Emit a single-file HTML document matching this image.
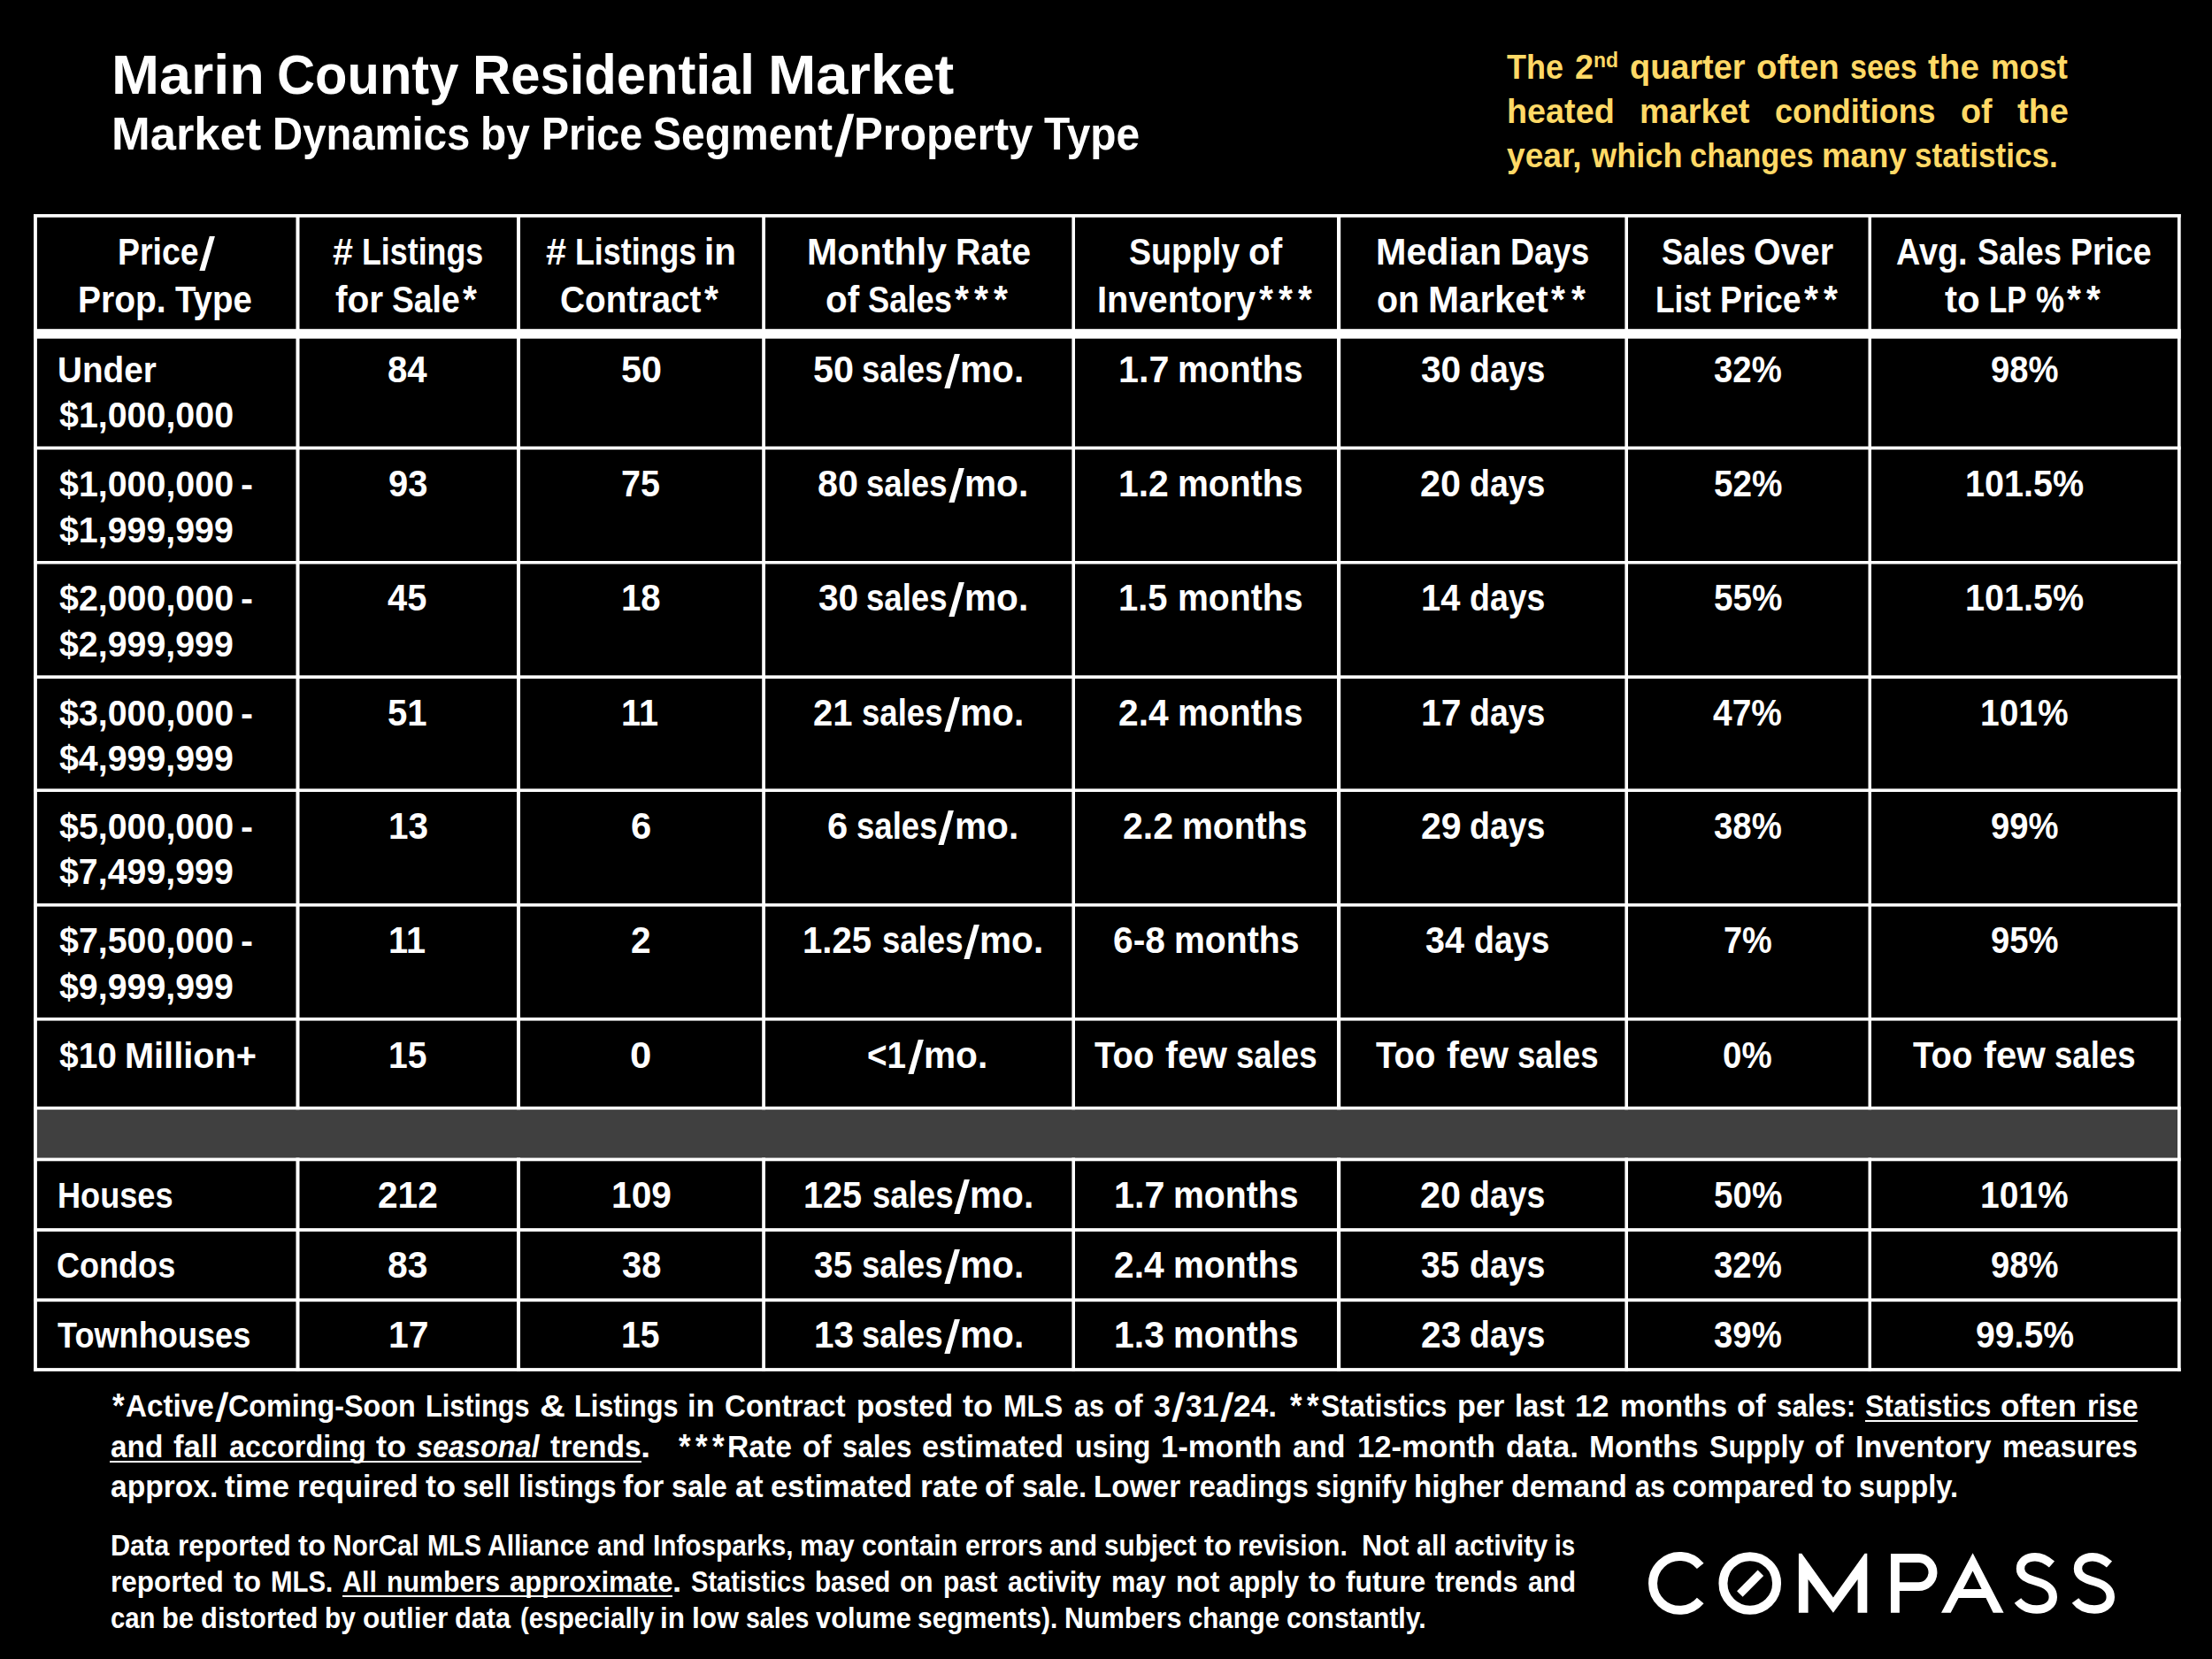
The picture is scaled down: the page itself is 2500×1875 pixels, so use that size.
<!DOCTYPE html>
<html><head><meta charset="utf-8"><style>
html,body{margin:0;padding:0;background:#000;}
body{width:2500px;height:1875px;position:relative;overflow:hidden;}
.t{position:absolute;white-space:pre;font-family:"Liberation Sans",sans-serif;font-weight:bold;line-height:1;transform-origin:0 0;}
.ln{position:absolute;}
</style></head><body>
<span class="t" style="left:125.66px;top:53px;font-size:62.50px;transform:scaleX(1.0376);color:#fff;">Marin</span>
<span class="t" style="left:312.76px;top:53px;font-size:62.50px;transform:scaleX(0.9538);color:#fff;">County</span>
<span class="t" style="left:533.63px;top:53px;font-size:62.50px;transform:scaleX(0.9562);color:#fff;">Residential</span>
<span class="t" style="left:868.30px;top:53px;font-size:62.50px;transform:scaleX(1.0430);color:#fff;">Market</span>
<span class="t" style="left:125.99px;top:126px;font-size:51.66px;transform:scaleX(1.0158);color:#fff;">Market</span>
<span class="t" style="left:307.88px;top:126px;font-size:51.66px;transform:scaleX(0.9150);color:#fff;">Dynamics</span>
<span class="t" style="left:543.46px;top:126px;font-size:51.66px;transform:scaleX(0.9272);color:#fff;">by</span>
<span class="t" style="left:611.93px;top:126px;font-size:51.66px;transform:scaleX(0.9027);color:#fff;">Price</span>
<span class="t" style="left:738.30px;top:126px;font-size:51.66px;transform:scaleX(0.9300);color:#fff;">Segment</span>
<span class="t" style="left:942.74px;top:126px;font-size:51.66px;transform:translateY(7.03px) scale(1.2489,1.2621) skewX(-6deg);transform-origin:0 43px;color:#fff;">/</span>
<span class="t" style="left:965.13px;top:126px;font-size:51.66px;transform:scaleX(0.9528);color:#fff;">Property</span>
<span class="t" style="left:1180.07px;top:126px;font-size:51.66px;transform:scaleX(0.9255);color:#fff;">Type</span>
<span class="t" style="left:1702.90px;top:57px;font-size:38.75px;transform:scaleX(0.9286);color:#FFD966;">The</span>
<span class="t" style="left:1779.88px;top:57px;font-size:38.75px;transform:scaleX(0.9793);color:#FFD966;">2</span>
<span class="t" style="left:1800.99px;top:56px;font-size:24.41px;transform:scaleX(0.9394);color:#FFD966;">nd</span>
<span class="t" style="left:1841.71px;top:57px;font-size:38.75px;transform:scaleX(0.9780);color:#FFD966;">quarter</span>
<span class="t" style="left:1984.97px;top:57px;font-size:38.75px;transform:scaleX(0.9906);color:#FFD966;">often</span>
<span class="t" style="left:2091.32px;top:57px;font-size:38.75px;transform:scaleX(0.8781);color:#FFD966;">sees</span>
<span class="t" style="left:2179.48px;top:57px;font-size:38.75px;transform:scaleX(0.9965);color:#FFD966;">the</span>
<span class="t" style="left:2250.45px;top:57px;font-size:38.75px;transform:scaleX(0.9396);color:#FFD966;">most</span>
<span class="t" style="left:1702.84px;top:107px;font-size:38.75px;transform:scaleX(0.9748);color:#FFD966;">heated</span>
<span class="t" style="left:1853.40px;top:107px;font-size:38.75px;transform:scaleX(0.9792);color:#FFD966;">market</span>
<span class="t" style="left:2006.40px;top:107px;font-size:38.75px;transform:scaleX(0.9268);color:#FFD966;">conditions</span>
<span class="t" style="left:2216.01px;top:107px;font-size:38.75px;transform:scaleX(0.9728);color:#FFD966;">of</span>
<span class="t" style="left:2280.39px;top:107px;font-size:38.75px;transform:scaleX(0.9965);color:#FFD966;">the</span>
<span class="t" style="left:1702.70px;top:157px;font-size:38.75px;transform:scaleX(0.9571);color:#FFD966;">year,</span>
<span class="t" style="left:1798.70px;top:157px;font-size:38.75px;transform:scaleX(0.9335);color:#FFD966;">which</span>
<span class="t" style="left:1910.22px;top:157px;font-size:38.75px;transform:scaleX(0.8879);color:#FFD966;">changes</span>
<span class="t" style="left:2058.98px;top:157px;font-size:38.75px;transform:scaleX(0.9448);color:#FFD966;">many</span>
<span class="t" style="left:2163.78px;top:157px;font-size:38.75px;transform:scaleX(0.9047);color:#FFD966;">statistics.</span>
<svg class="ln" style="left:0;top:0" width="2500" height="1875" viewBox="0 0 2500 1875"><rect x="38.07" y="1254.2" width="2426.6" height="54.3" fill="#404040"/><rect x="38.07" y="242" width="3.83" height="1307.9" fill="#fff"/><rect x="334.5" y="242" width="4.00" height="1012.2" fill="#fff"/><rect x="334.5" y="1308.5" width="4.00" height="241.4" fill="#fff"/><rect x="584.0" y="242" width="4.00" height="1012.2" fill="#fff"/><rect x="584.0" y="1308.5" width="4.00" height="241.4" fill="#fff"/><rect x="861.2" y="242" width="3.80" height="1012.2" fill="#fff"/><rect x="861.2" y="1308.5" width="3.80" height="241.4" fill="#fff"/><rect x="1211.4" y="242" width="3.60" height="1012.2" fill="#fff"/><rect x="1211.4" y="1308.5" width="3.60" height="241.4" fill="#fff"/><rect x="1511.0" y="242" width="4.20" height="1012.2" fill="#fff"/><rect x="1511.0" y="1308.5" width="4.20" height="241.4" fill="#fff"/><rect x="1836.4" y="242" width="3.60" height="1012.2" fill="#fff"/><rect x="1836.4" y="1308.5" width="3.60" height="241.4" fill="#fff"/><rect x="2111.5" y="242" width="3.50" height="1012.2" fill="#fff"/><rect x="2111.5" y="1308.5" width="3.50" height="241.4" fill="#fff"/><rect x="2461.0" y="242" width="3.70" height="1307.9" fill="#fff"/><rect x="38.07" y="242.0" width="2426.63" height="3.70" fill="#fff"/><rect x="38.07" y="371.8" width="2426.63" height="10.90" fill="#fff"/><rect x="38.07" y="504.5" width="2426.63" height="3.70" fill="#fff"/><rect x="38.07" y="634.0" width="2426.63" height="3.50" fill="#fff"/><rect x="38.07" y="763.3" width="2426.63" height="3.70" fill="#fff"/><rect x="38.07" y="891.4" width="2426.63" height="3.60" fill="#fff"/><rect x="38.07" y="1021.0" width="2426.63" height="3.60" fill="#fff"/><rect x="38.07" y="1150.0" width="2426.63" height="3.60" fill="#fff"/><rect x="38.07" y="1250.6" width="2426.63" height="3.60" fill="#fff"/><rect x="38.07" y="1308.5" width="2426.63" height="3.80" fill="#fff"/><rect x="38.07" y="1388.1" width="2426.63" height="3.80" fill="#fff"/><rect x="38.07" y="1467.4" width="2426.63" height="3.80" fill="#fff"/><rect x="38.07" y="1546.1" width="2426.63" height="3.80" fill="#fff"/></svg>
<span class="t" style="left:132.59px;top:264px;font-size:42.37px;transform:scaleX(0.8837);color:#fff;">Price</span>
<span class="t" style="left:225.30px;top:264px;font-size:42.37px;transform:translateY(5.64px) scale(1.2226,1.2355) skewX(-6deg);transform-origin:0 35px;color:#fff;">/</span>
<span class="t" style="left:88.35px;top:318px;font-size:42.37px;transform:scaleX(0.9195);color:#fff;">Prop.</span>
<span class="t" style="left:197.91px;top:318px;font-size:42.37px;transform:scaleX(0.9060);color:#fff;">Type</span>
<span class="t" style="left:376.07px;top:264px;font-size:42.37px;transform:scaleX(0.9760);color:#fff;">#</span>
<span class="t" style="left:408.66px;top:264px;font-size:42.37px;transform:scaleX(0.8451);color:#fff;">Listings</span>
<span class="t" style="left:379.37px;top:318px;font-size:42.37px;transform:scaleX(0.9590);color:#fff;">for</span>
<span class="t" style="left:443.41px;top:318px;font-size:42.37px;transform:scaleX(0.8797);color:#fff;">Sale</span>
<span class="t" style="left:523.27px;top:318px;font-size:42.37px;transform:translateY(0.63px) scale(0.9645,1.0666);transform-origin:0 35px;color:#fff;">*</span>
<span class="t" style="left:617.08px;top:264px;font-size:42.37px;transform:scaleX(0.9760);color:#fff;">#</span>
<span class="t" style="left:649.67px;top:264px;font-size:42.37px;transform:scaleX(0.8451);color:#fff;">Listings</span>
<span class="t" style="left:795.83px;top:264px;font-size:42.37px;transform:scaleX(0.9542);color:#fff;">in</span>
<span class="t" style="left:633.23px;top:318px;font-size:42.37px;transform:scaleX(0.9155);color:#fff;">Contract</span>
<span class="t" style="left:795.99px;top:318px;font-size:42.37px;transform:translateY(0.63px) scale(0.9645,1.0666);transform-origin:0 35px;color:#fff;">*</span>
<span class="t" style="left:911.52px;top:264px;font-size:42.37px;transform:scaleX(0.9736);color:#fff;">Monthly</span>
<span class="t" style="left:1079.65px;top:264px;font-size:42.37px;transform:scaleX(0.9265);color:#fff;">Rate</span>
<span class="t" style="left:933.22px;top:318px;font-size:42.37px;transform:scaleX(0.9523);color:#fff;">of</span>
<span class="t" style="left:981.40px;top:318px;font-size:42.37px;transform:scaleX(0.8568);color:#fff;">Sales</span>
<span class="t" style="left:1079.03px;top:318px;font-size:42.37px;transform:translateY(0.63px) scale(0.9645,1.0666);transform-origin:0 35px;color:#fff;">*</span>
<span class="t" style="left:1101.24px;top:318px;font-size:42.37px;transform:translateY(0.63px) scale(0.9645,1.0666);transform-origin:0 35px;color:#fff;">*</span>
<span class="t" style="left:1123.45px;top:318px;font-size:42.37px;transform:translateY(0.63px) scale(0.9645,1.0666);transform-origin:0 35px;color:#fff;">*</span>
<span class="t" style="left:1276.18px;top:264px;font-size:42.37px;transform:scaleX(0.8864);color:#fff;">Supply</span>
<span class="t" style="left:1411.25px;top:264px;font-size:42.37px;transform:scaleX(0.9523);color:#fff;">of</span>
<span class="t" style="left:1240.22px;top:318px;font-size:42.37px;transform:scaleX(0.9403);color:#fff;">Inventory</span>
<span class="t" style="left:1422.66px;top:318px;font-size:42.37px;transform:translateY(0.63px) scale(0.9645,1.0666);transform-origin:0 35px;color:#fff;">*</span>
<span class="t" style="left:1444.87px;top:318px;font-size:42.37px;transform:translateY(0.63px) scale(0.9645,1.0666);transform-origin:0 35px;color:#fff;">*</span>
<span class="t" style="left:1467.08px;top:318px;font-size:42.37px;transform:translateY(0.63px) scale(0.9645,1.0666);transform-origin:0 35px;color:#fff;">*</span>
<span class="t" style="left:1555.06px;top:264px;font-size:42.37px;transform:scaleX(0.9745);color:#fff;">Median</span>
<span class="t" style="left:1707.18px;top:264px;font-size:42.37px;transform:scaleX(0.8829);color:#fff;">Days</span>
<span class="t" style="left:1556.01px;top:318px;font-size:42.37px;transform:scaleX(0.9315);color:#fff;">on</span>
<span class="t" style="left:1614.41px;top:318px;font-size:42.37px;transform:scaleX(0.9944);color:#fff;">Market</span>
<span class="t" style="left:1753.48px;top:318px;font-size:42.37px;transform:translateY(0.63px) scale(0.9645,1.0666);transform-origin:0 35px;color:#fff;">*</span>
<span class="t" style="left:1775.70px;top:318px;font-size:42.37px;transform:translateY(0.63px) scale(0.9645,1.0666);transform-origin:0 35px;color:#fff;">*</span>
<span class="t" style="left:1878.31px;top:264px;font-size:42.37px;transform:scaleX(0.8568);color:#fff;">Sales</span>
<span class="t" style="left:1982.33px;top:264px;font-size:42.37px;transform:scaleX(0.9329);color:#fff;">Over</span>
<span class="t" style="left:1870.87px;top:318px;font-size:42.37px;transform:scaleX(0.8345);color:#fff;">List</span>
<span class="t" style="left:1944.03px;top:318px;font-size:42.37px;transform:scaleX(0.8837);color:#fff;">Price</span>
<span class="t" style="left:2038.81px;top:318px;font-size:42.37px;transform:translateY(0.63px) scale(0.9645,1.0666);transform-origin:0 35px;color:#fff;">*</span>
<span class="t" style="left:2061.02px;top:318px;font-size:42.37px;transform:translateY(0.63px) scale(0.9645,1.0666);transform-origin:0 35px;color:#fff;">*</span>
<span class="t" style="left:2143.49px;top:264px;font-size:42.37px;transform:scaleX(0.8932);color:#fff;">Avg.</span>
<span class="t" style="left:2235.40px;top:264px;font-size:42.37px;transform:scaleX(0.8568);color:#fff;">Sales</span>
<span class="t" style="left:2339.99px;top:264px;font-size:42.37px;transform:scaleX(0.8837);color:#fff;">Price</span>
<span class="t" style="left:2198.33px;top:318px;font-size:42.37px;transform:scaleX(0.9962);color:#fff;">to</span>
<span class="t" style="left:2248.08px;top:318px;font-size:42.37px;transform:scaleX(0.7840);color:#fff;">LP</span>
<span class="t" style="left:2300.84px;top:318px;font-size:42.37px;transform:scaleX(0.8533);color:#fff;">%</span>
<span class="t" style="left:2336.26px;top:318px;font-size:42.37px;transform:translateY(0.63px) scale(0.9645,1.0666);transform-origin:0 35px;color:#fff;">*</span>
<span class="t" style="left:2358.47px;top:318px;font-size:42.37px;transform:translateY(0.63px) scale(0.9645,1.0666);transform-origin:0 35px;color:#fff;">*</span>
<span class="t" style="left:65.04px;top:399px;font-size:40.27px;transform:scaleX(0.9613);color:#fff;">Under</span>
<span class="t" style="left:66.57px;top:450px;font-size:40.27px;transform:scaleX(0.9777);color:#fff;">$1,000,000</span>
<span class="t" style="left:438.45px;top:397px;font-size:42.37px;transform:scaleX(0.9484);color:#fff;">84</span>
<span class="t" style="left:701.91px;top:397px;font-size:42.37px;transform:scaleX(0.9756);color:#fff;">50</span>
<span class="t" style="left:919.20px;top:397px;font-size:42.37px;transform:scaleX(0.9756);color:#fff;">50</span>
<span class="t" style="left:974.30px;top:397px;font-size:42.37px;transform:scaleX(0.8635);color:#fff;">sales</span>
<span class="t" style="left:1066.53px;top:397px;font-size:42.37px;transform:translateY(5.64px) scale(1.2226,1.2355) skewX(-6deg);transform-origin:0 35px;color:#fff;">/</span>
<span class="t" style="left:1084.76px;top:397px;font-size:42.37px;transform:scaleX(0.9588);color:#fff;">mo.</span>
<span class="t" style="left:1264.13px;top:397px;font-size:42.37px;transform:scaleX(0.9741);color:#fff;">1.7</span>
<span class="t" style="left:1331.16px;top:397px;font-size:42.37px;transform:scaleX(0.9259);color:#fff;">months</span>
<span class="t" style="left:1606.14px;top:397px;font-size:42.37px;transform:scaleX(0.9600);color:#fff;">30</span>
<span class="t" style="left:1660.55px;top:397px;font-size:42.37px;transform:scaleX(0.8847);color:#fff;">days</span>
<span class="t" style="left:1937.41px;top:397px;font-size:42.37px;transform:scaleX(0.9062);color:#fff;">32%</span>
<span class="t" style="left:2250.23px;top:397px;font-size:42.37px;transform:scaleX(0.9024);color:#fff;">98%</span>
<span class="t" style="left:66.57px;top:528px;font-size:40.27px;transform:scaleX(0.9777);color:#fff;">$1,000,000</span>
<span class="t" style="left:272.33px;top:528px;font-size:40.27px;transform:scaleX(1.0443);color:#fff;">-</span>
<span class="t" style="left:66.57px;top:580px;font-size:40.27px;transform:scaleX(0.9767);color:#fff;">$1,999,999</span>
<span class="t" style="left:439.43px;top:526px;font-size:42.37px;transform:scaleX(0.9416);color:#fff;">93</span>
<span class="t" style="left:701.98px;top:526px;font-size:42.37px;transform:scaleX(0.9327);color:#fff;">75</span>
<span class="t" style="left:924.24px;top:526px;font-size:42.37px;transform:scaleX(0.9755);color:#fff;">80</span>
<span class="t" style="left:979.34px;top:526px;font-size:42.37px;transform:scaleX(0.8635);color:#fff;">sales</span>
<span class="t" style="left:1071.57px;top:526px;font-size:42.37px;transform:translateY(5.64px) scale(1.2226,1.2355) skewX(-6deg);transform-origin:0 35px;color:#fff;">/</span>
<span class="t" style="left:1089.80px;top:526px;font-size:42.37px;transform:scaleX(0.9588);color:#fff;">mo.</span>
<span class="t" style="left:1264.16px;top:526px;font-size:42.37px;transform:scaleX(0.9644);color:#fff;">1.2</span>
<span class="t" style="left:1331.16px;top:526px;font-size:42.37px;transform:scaleX(0.9259);color:#fff;">months</span>
<span class="t" style="left:1605.49px;top:526px;font-size:42.37px;transform:scaleX(0.9743);color:#fff;">20</span>
<span class="t" style="left:1660.55px;top:526px;font-size:42.37px;transform:scaleX(0.8847);color:#fff;">days</span>
<span class="t" style="left:1936.73px;top:526px;font-size:42.37px;transform:scaleX(0.9144);color:#fff;">52%</span>
<span class="t" style="left:2221.07px;top:526px;font-size:42.37px;transform:scaleX(0.9345);color:#fff;">101.5%</span>
<span class="t" style="left:66.57px;top:657px;font-size:40.27px;transform:scaleX(0.9777);color:#fff;">$2,000,000</span>
<span class="t" style="left:272.33px;top:657px;font-size:40.27px;transform:scaleX(1.0443);color:#fff;">-</span>
<span class="t" style="left:66.57px;top:709px;font-size:40.27px;transform:scaleX(0.9767);color:#fff;">$2,999,999</span>
<span class="t" style="left:438.12px;top:655px;font-size:42.37px;transform:scaleX(0.9406);color:#fff;">45</span>
<span class="t" style="left:702.35px;top:655px;font-size:42.37px;transform:scaleX(0.9477);color:#fff;">18</span>
<span class="t" style="left:924.95px;top:655px;font-size:42.37px;transform:scaleX(0.9600);color:#fff;">30</span>
<span class="t" style="left:979.34px;top:655px;font-size:42.37px;transform:scaleX(0.8635);color:#fff;">sales</span>
<span class="t" style="left:1071.57px;top:655px;font-size:42.37px;transform:translateY(5.64px) scale(1.2226,1.2355) skewX(-6deg);transform-origin:0 35px;color:#fff;">/</span>
<span class="t" style="left:1089.80px;top:655px;font-size:42.37px;transform:scaleX(0.9588);color:#fff;">mo.</span>
<span class="t" style="left:1264.22px;top:655px;font-size:42.37px;transform:scaleX(0.9423);color:#fff;">1.5</span>
<span class="t" style="left:1331.16px;top:655px;font-size:42.37px;transform:scaleX(0.9259);color:#fff;">months</span>
<span class="t" style="left:1605.90px;top:655px;font-size:42.37px;transform:scaleX(0.9394);color:#fff;">14</span>
<span class="t" style="left:1660.55px;top:655px;font-size:42.37px;transform:scaleX(0.8847);color:#fff;">days</span>
<span class="t" style="left:1936.73px;top:655px;font-size:42.37px;transform:scaleX(0.9144);color:#fff;">55%</span>
<span class="t" style="left:2221.07px;top:655px;font-size:42.37px;transform:scaleX(0.9345);color:#fff;">101.5%</span>
<span class="t" style="left:66.57px;top:787px;font-size:40.27px;transform:scaleX(0.9777);color:#fff;">$3,000,000</span>
<span class="t" style="left:272.33px;top:787px;font-size:40.27px;transform:scaleX(1.0443);color:#fff;">-</span>
<span class="t" style="left:66.57px;top:838px;font-size:40.27px;transform:scaleX(0.9767);color:#fff;">$4,999,999</span>
<span class="t" style="left:438.45px;top:785px;font-size:42.37px;transform:scaleX(0.9463);color:#fff;">51</span>
<span class="t" style="left:702.38px;top:785px;font-size:42.37px;transform:scaleX(0.9369);color:#fff;">11</span>
<span class="t" style="left:919.30px;top:785px;font-size:42.37px;transform:scaleX(0.9449);color:#fff;">21</span>
<span class="t" style="left:974.30px;top:785px;font-size:42.37px;transform:scaleX(0.8635);color:#fff;">sales</span>
<span class="t" style="left:1066.53px;top:785px;font-size:42.37px;transform:translateY(5.64px) scale(1.2226,1.2355) skewX(-6deg);transform-origin:0 35px;color:#fff;">/</span>
<span class="t" style="left:1084.76px;top:785px;font-size:42.37px;transform:scaleX(0.9588);color:#fff;">mo.</span>
<span class="t" style="left:1263.84px;top:785px;font-size:42.37px;transform:scaleX(0.9605);color:#fff;">2.4</span>
<span class="t" style="left:1331.16px;top:785px;font-size:42.37px;transform:scaleX(0.9259);color:#fff;">months</span>
<span class="t" style="left:1605.83px;top:785px;font-size:42.37px;transform:scaleX(0.9637);color:#fff;">17</span>
<span class="t" style="left:1660.55px;top:785px;font-size:42.37px;transform:scaleX(0.8847);color:#fff;">days</span>
<span class="t" style="left:1936.38px;top:785px;font-size:42.37px;transform:scaleX(0.9186);color:#fff;">47%</span>
<span class="t" style="left:2238.36px;top:785px;font-size:42.37px;transform:scaleX(0.9202);color:#fff;">101%</span>
<span class="t" style="left:66.57px;top:915px;font-size:40.27px;transform:scaleX(0.9777);color:#fff;">$5,000,000</span>
<span class="t" style="left:272.33px;top:915px;font-size:40.27px;transform:scaleX(1.0443);color:#fff;">-</span>
<span class="t" style="left:66.57px;top:966px;font-size:40.27px;transform:scaleX(0.9767);color:#fff;">$7,499,999</span>
<span class="t" style="left:438.83px;top:913px;font-size:42.37px;transform:scaleX(0.9547);color:#fff;">13</span>
<span class="t" style="left:713.13px;top:913px;font-size:42.37px;transform:scaleX(0.9846);color:#fff;">6</span>
<span class="t" style="left:935.46px;top:913px;font-size:42.37px;transform:scaleX(0.9846);color:#fff;">6</span>
<span class="t" style="left:968.04px;top:913px;font-size:42.37px;transform:scaleX(0.8635);color:#fff;">sales</span>
<span class="t" style="left:1060.27px;top:913px;font-size:42.37px;transform:translateY(5.64px) scale(1.2226,1.2355) skewX(-6deg);transform-origin:0 35px;color:#fff;">/</span>
<span class="t" style="left:1078.50px;top:913px;font-size:42.37px;transform:scaleX(0.9588);color:#fff;">mo.</span>
<span class="t" style="left:1268.87px;top:913px;font-size:42.37px;transform:scaleX(0.9702);color:#fff;">2.2</span>
<span class="t" style="left:1336.20px;top:913px;font-size:42.37px;transform:scaleX(0.9259);color:#fff;">months</span>
<span class="t" style="left:1605.50px;top:913px;font-size:42.37px;transform:scaleX(0.9696);color:#fff;">29</span>
<span class="t" style="left:1660.55px;top:913px;font-size:42.37px;transform:scaleX(0.8847);color:#fff;">days</span>
<span class="t" style="left:1937.41px;top:913px;font-size:42.37px;transform:scaleX(0.9062);color:#fff;">38%</span>
<span class="t" style="left:2250.23px;top:913px;font-size:42.37px;transform:scaleX(0.9024);color:#fff;">99%</span>
<span class="t" style="left:66.57px;top:1044px;font-size:40.27px;transform:scaleX(0.9777);color:#fff;">$7,500,000</span>
<span class="t" style="left:272.33px;top:1044px;font-size:40.27px;transform:scaleX(1.0443);color:#fff;">-</span>
<span class="t" style="left:66.57px;top:1096px;font-size:40.27px;transform:scaleX(0.9767);color:#fff;">$9,999,999</span>
<span class="t" style="left:438.88px;top:1042px;font-size:42.37px;transform:scaleX(0.9369);color:#fff;">11</span>
<span class="t" style="left:713.29px;top:1042px;font-size:42.37px;transform:scaleX(0.9587);color:#fff;">2</span>
<span class="t" style="left:907.42px;top:1042px;font-size:42.37px;transform:scaleX(0.9474);color:#fff;">1.25</span>
<span class="t" style="left:996.60px;top:1042px;font-size:42.37px;transform:scaleX(0.8635);color:#fff;">sales</span>
<span class="t" style="left:1088.83px;top:1042px;font-size:42.37px;transform:translateY(5.64px) scale(1.2226,1.2355) skewX(-6deg);transform-origin:0 35px;color:#fff;">/</span>
<span class="t" style="left:1107.06px;top:1042px;font-size:42.37px;transform:scaleX(0.9588);color:#fff;">mo.</span>
<span class="t" style="left:1257.81px;top:1042px;font-size:42.37px;transform:scaleX(0.9605);color:#fff;">6-8</span>
<span class="t" style="left:1326.99px;top:1042px;font-size:42.37px;transform:scaleX(0.9259);color:#fff;">months</span>
<span class="t" style="left:1611.21px;top:1042px;font-size:42.37px;transform:scaleX(0.9336);color:#fff;">34</span>
<span class="t" style="left:1665.59px;top:1042px;font-size:42.37px;transform:scaleX(0.8847);color:#fff;">days</span>
<span class="t" style="left:1948.10px;top:1042px;font-size:42.37px;transform:scaleX(0.8957);color:#fff;">7%</span>
<span class="t" style="left:2250.23px;top:1042px;font-size:42.37px;transform:scaleX(0.9024);color:#fff;">95%</span>
<span class="t" style="left:66.58px;top:1174px;font-size:40.27px;transform:scaleX(0.9670);color:#fff;">$10</span>
<span class="t" style="left:140.91px;top:1174px;font-size:40.27px;transform:scaleX(0.9865);color:#fff;">Million+</span>
<span class="t" style="left:438.91px;top:1172px;font-size:42.37px;transform:scaleX(0.9233);color:#fff;">15</span>
<span class="t" style="left:712.38px;top:1172px;font-size:42.37px;transform:scaleX(1.0310);color:#fff;">0</span>
<span class="t" style="left:980.17px;top:1172px;font-size:42.37px;transform:scaleX(0.9119);color:#fff;">&lt;1</span>
<span class="t" style="left:1025.87px;top:1172px;font-size:42.37px;transform:translateY(5.64px) scale(1.2226,1.2355) skewX(-6deg);transform-origin:0 35px;color:#fff;">/</span>
<span class="t" style="left:1044.10px;top:1172px;font-size:42.37px;transform:scaleX(0.9588);color:#fff;">mo.</span>
<span class="t" style="left:1237.46px;top:1172px;font-size:42.37px;transform:scaleX(0.9044);color:#fff;">Too</span>
<span class="t" style="left:1317.34px;top:1172px;font-size:42.37px;transform:scaleX(0.9888);color:#fff;">few</span>
<span class="t" style="left:1397.32px;top:1172px;font-size:42.37px;transform:scaleX(0.8635);color:#fff;">sales</span>
<span class="t" style="left:1555.00px;top:1172px;font-size:42.37px;transform:scaleX(0.9044);color:#fff;">Too</span>
<span class="t" style="left:1634.88px;top:1172px;font-size:42.37px;transform:scaleX(0.9888);color:#fff;">few</span>
<span class="t" style="left:1714.86px;top:1172px;font-size:42.37px;transform:scaleX(0.8635);color:#fff;">sales</span>
<span class="t" style="left:1947.33px;top:1172px;font-size:42.37px;transform:scaleX(0.9084);color:#fff;">0%</span>
<span class="t" style="left:2162.46px;top:1172px;font-size:42.37px;transform:scaleX(0.9044);color:#fff;">Too</span>
<span class="t" style="left:2242.34px;top:1172px;font-size:42.37px;transform:scaleX(0.9888);color:#fff;">few</span>
<span class="t" style="left:2322.32px;top:1172px;font-size:42.37px;transform:scaleX(0.8635);color:#fff;">sales</span>
<span class="t" style="left:64.97px;top:1332px;font-size:40.27px;transform:scaleX(0.8977);color:#fff;">Houses</span>
<span class="t" style="left:427.19px;top:1330px;font-size:42.37px;transform:scaleX(0.9591);color:#fff;">212</span>
<span class="t" style="left:691.01px;top:1330px;font-size:42.37px;transform:scaleX(0.9612);color:#fff;">109</span>
<span class="t" style="left:908.37px;top:1330px;font-size:42.37px;transform:scaleX(0.9360);color:#fff;">125</span>
<span class="t" style="left:985.60px;top:1330px;font-size:42.37px;transform:scaleX(0.8635);color:#fff;">sales</span>
<span class="t" style="left:1077.83px;top:1330px;font-size:42.37px;transform:translateY(5.64px) scale(1.2226,1.2355) skewX(-6deg);transform-origin:0 35px;color:#fff;">/</span>
<span class="t" style="left:1096.06px;top:1330px;font-size:42.37px;transform:scaleX(0.9588);color:#fff;">mo.</span>
<span class="t" style="left:1259.09px;top:1330px;font-size:42.37px;transform:scaleX(0.9741);color:#fff;">1.7</span>
<span class="t" style="left:1326.11px;top:1330px;font-size:42.37px;transform:scaleX(0.9259);color:#fff;">months</span>
<span class="t" style="left:1605.49px;top:1330px;font-size:42.37px;transform:scaleX(0.9743);color:#fff;">20</span>
<span class="t" style="left:1660.55px;top:1330px;font-size:42.37px;transform:scaleX(0.8847);color:#fff;">days</span>
<span class="t" style="left:1936.73px;top:1330px;font-size:42.37px;transform:scaleX(0.9144);color:#fff;">50%</span>
<span class="t" style="left:2238.36px;top:1330px;font-size:42.37px;transform:scaleX(0.9202);color:#fff;">101%</span>
<span class="t" style="left:64.41px;top:1411px;font-size:40.27px;transform:scaleX(0.8954);color:#fff;">Condos</span>
<span class="t" style="left:438.43px;top:1409px;font-size:42.37px;transform:scaleX(0.9636);color:#fff;">83</span>
<span class="t" style="left:702.63px;top:1409px;font-size:42.37px;transform:scaleX(0.9414);color:#fff;">38</span>
<span class="t" style="left:919.95px;top:1409px;font-size:42.37px;transform:scaleX(0.9180);color:#fff;">35</span>
<span class="t" style="left:974.30px;top:1409px;font-size:42.37px;transform:scaleX(0.8635);color:#fff;">sales</span>
<span class="t" style="left:1066.53px;top:1409px;font-size:42.37px;transform:translateY(5.64px) scale(1.2226,1.2355) skewX(-6deg);transform-origin:0 35px;color:#fff;">/</span>
<span class="t" style="left:1084.76px;top:1409px;font-size:42.37px;transform:scaleX(0.9588);color:#fff;">mo.</span>
<span class="t" style="left:1258.80px;top:1409px;font-size:42.37px;transform:scaleX(0.9605);color:#fff;">2.4</span>
<span class="t" style="left:1326.11px;top:1409px;font-size:42.37px;transform:scaleX(0.9259);color:#fff;">months</span>
<span class="t" style="left:1606.18px;top:1409px;font-size:42.37px;transform:scaleX(0.9180);color:#fff;">35</span>
<span class="t" style="left:1660.55px;top:1409px;font-size:42.37px;transform:scaleX(0.8847);color:#fff;">days</span>
<span class="t" style="left:1937.41px;top:1409px;font-size:42.37px;transform:scaleX(0.9062);color:#fff;">32%</span>
<span class="t" style="left:2250.23px;top:1409px;font-size:42.37px;transform:scaleX(0.9024);color:#fff;">98%</span>
<span class="t" style="left:64.96px;top:1490px;font-size:40.27px;transform:scaleX(0.8981);color:#fff;">Townhouses</span>
<span class="t" style="left:438.81px;top:1488px;font-size:42.37px;transform:scaleX(0.9637);color:#fff;">17</span>
<span class="t" style="left:702.41px;top:1488px;font-size:42.37px;transform:scaleX(0.9233);color:#fff;">15</span>
<span class="t" style="left:919.62px;top:1488px;font-size:42.37px;transform:scaleX(0.9547);color:#fff;">13</span>
<span class="t" style="left:974.30px;top:1488px;font-size:42.37px;transform:scaleX(0.8635);color:#fff;">sales</span>
<span class="t" style="left:1066.53px;top:1488px;font-size:42.37px;transform:translateY(5.64px) scale(1.2226,1.2355) skewX(-6deg);transform-origin:0 35px;color:#fff;">/</span>
<span class="t" style="left:1084.76px;top:1488px;font-size:42.37px;transform:scaleX(0.9588);color:#fff;">mo.</span>
<span class="t" style="left:1259.11px;top:1488px;font-size:42.37px;transform:scaleX(0.9670);color:#fff;">1.3</span>
<span class="t" style="left:1326.11px;top:1488px;font-size:42.37px;transform:scaleX(0.9259);color:#fff;">months</span>
<span class="t" style="left:1605.51px;top:1488px;font-size:42.37px;transform:scaleX(0.9623);color:#fff;">23</span>
<span class="t" style="left:1660.55px;top:1488px;font-size:42.37px;transform:scaleX(0.8847);color:#fff;">days</span>
<span class="t" style="left:1937.41px;top:1488px;font-size:42.37px;transform:scaleX(0.9062);color:#fff;">39%</span>
<span class="t" style="left:2232.94px;top:1488px;font-size:42.37px;transform:scaleX(0.9248);color:#fff;">99.5%</span>
<span class="t" style="left:126.89px;top:1572px;font-size:35.52px;transform:translateY(0.54px) scale(0.9852,1.0895);transform-origin:0 29px;color:#fff;">*</span>
<span class="t" style="left:142.49px;top:1572px;font-size:35.52px;transform:scaleX(0.9359);color:#fff;">Active</span>
<span class="t" style="left:243.18px;top:1572px;font-size:35.52px;transform:translateY(4.83px) scale(1.2489,1.2621) skewX(-6deg);transform-origin:0 29px;color:#fff;">/</span>
<span class="t" style="left:258.15px;top:1572px;font-size:35.52px;transform:scaleX(0.9092);color:#fff;">Coming-Soon</span>
<span class="t" style="left:481.47px;top:1572px;font-size:35.52px;transform:scaleX(0.8633);color:#fff;">Listings</span>
<span class="t" style="left:609.88px;top:1572px;font-size:35.52px;transform:scaleX(1.1248);color:#fff;">&amp;</span>
<span class="t" style="left:649.07px;top:1572px;font-size:35.52px;transform:scaleX(0.8633);color:#fff;">Listings</span>
<span class="t" style="left:777.32px;top:1572px;font-size:35.52px;transform:scaleX(0.9747);color:#fff;">in</span>
<span class="t" style="left:819.09px;top:1572px;font-size:35.52px;transform:scaleX(0.9352);color:#fff;">Contract</span>
<span class="t" style="left:967.63px;top:1572px;font-size:35.52px;transform:scaleX(0.9362);color:#fff;">posted</span>
<span class="t" style="left:1088.39px;top:1572px;font-size:35.52px;transform:scaleX(1.0176);color:#fff;">to</span>
<span class="t" style="left:1134.45px;top:1572px;font-size:35.52px;transform:scaleX(0.8964);color:#fff;">MLS</span>
<span class="t" style="left:1213.76px;top:1572px;font-size:35.52px;transform:scaleX(0.8581);color:#fff;">as</span>
<span class="t" style="left:1258.92px;top:1572px;font-size:35.52px;transform:scaleX(0.9728);color:#fff;">of</span>
<span class="t" style="left:1304.10px;top:1572px;font-size:35.52px;transform:scaleX(0.9559);color:#fff;">3</span>
<span class="t" style="left:1323.72px;top:1572px;font-size:35.52px;transform:translateY(4.83px) scale(1.2489,1.2621) skewX(-6deg);transform-origin:0 29px;color:#fff;">/</span>
<span class="t" style="left:1339.87px;top:1572px;font-size:35.52px;transform:scaleX(0.9511);color:#fff;">31</span>
<span class="t" style="left:1378.84px;top:1572px;font-size:35.52px;transform:translateY(4.83px) scale(1.2489,1.2621) skewX(-6deg);transform-origin:0 29px;color:#fff;">/</span>
<span class="t" style="left:1394.42px;top:1572px;font-size:35.52px;transform:scaleX(0.9928);color:#fff;">24.</span>
<span class="t" style="left:1457.67px;top:1572px;font-size:35.52px;transform:translateY(0.54px) scale(0.9852,1.0895);transform-origin:0 29px;color:#fff;">*</span>
<span class="t" style="left:1476.69px;top:1572px;font-size:35.52px;transform:translateY(0.54px) scale(0.9852,1.0895);transform-origin:0 29px;color:#fff;">*</span>
<span class="t" style="left:1492.83px;top:1572px;font-size:35.52px;transform:scaleX(0.9017);color:#fff;">Statistics</span>
<span class="t" style="left:1646.65px;top:1572px;font-size:35.52px;transform:scaleX(0.9628);color:#fff;">per</span>
<span class="t" style="left:1711.68px;top:1572px;font-size:35.52px;transform:scaleX(0.9233);color:#fff;">last</span>
<span class="t" style="left:1780.46px;top:1572px;font-size:35.52px;transform:scaleX(0.9717);color:#fff;">12</span>
<span class="t" style="left:1830.70px;top:1572px;font-size:35.52px;transform:scaleX(0.9458);color:#fff;">months</span>
<span class="t" style="left:1963.13px;top:1572px;font-size:35.52px;transform:scaleX(0.9728);color:#fff;">of</span>
<span class="t" style="left:2007.51px;top:1572px;font-size:35.52px;transform:scaleX(0.8862);color:#fff;">sales:</span>
<span class="t" style="left:2107.65px;top:1572px;font-size:35.52px;transform:scaleX(0.9017);color:#fff;">Statistics</span>
<span class="t" style="left:2261.21px;top:1572px;font-size:35.52px;transform:scaleX(0.9906);color:#fff;">often</span>
<span class="t" style="left:2358.66px;top:1572px;font-size:35.52px;transform:scaleX(0.9089);color:#fff;">rise</span>
<div class="ln" style="left:2107.87px;top:1605px;width:308.29px;height:2px;background:#fff"></div>
<span class="t" style="left:124.60px;top:1618px;font-size:35.52px;transform:scaleX(0.9398);color:#fff;">and</span>
<span class="t" style="left:196.37px;top:1618px;font-size:35.52px;transform:scaleX(0.9754);color:#fff;">fall</span>
<span class="t" style="left:259.22px;top:1618px;font-size:35.52px;transform:scaleX(0.9117);color:#fff;">according</span>
<span class="t" style="left:424.65px;top:1618px;font-size:35.52px;transform:scaleX(1.0176);color:#fff;">to</span>
<span class="t" style="left:470.52px;top:1618px;font-size:35.52px;transform:scaleX(0.9110);color:#fff;font-style:italic;">seasonal</span>
<span class="t" style="left:622.33px;top:1618px;font-size:35.52px;transform:scaleX(0.9464);color:#fff;">trends</span>
<span class="t" style="left:724.17px;top:1618px;font-size:35.52px;transform:scaleX(1.1348);color:#fff;">.</span>
<span class="t" style="left:767.31px;top:1618px;font-size:35.52px;transform:translateY(0.54px) scale(0.9852,1.0895);transform-origin:0 29px;color:#fff;">*</span>
<span class="t" style="left:786.33px;top:1618px;font-size:35.52px;transform:translateY(0.54px) scale(0.9852,1.0895);transform-origin:0 29px;color:#fff;">*</span>
<span class="t" style="left:805.35px;top:1618px;font-size:35.52px;transform:translateY(0.54px) scale(0.9852,1.0895);transform-origin:0 29px;color:#fff;">*</span>
<span class="t" style="left:821.66px;top:1618px;font-size:35.52px;transform:scaleX(0.9464);color:#fff;">Rate</span>
<span class="t" style="left:906.86px;top:1618px;font-size:35.52px;transform:scaleX(0.9728);color:#fff;">of</span>
<span class="t" style="left:952.05px;top:1618px;font-size:35.52px;transform:scaleX(0.8820);color:#fff;">sales</span>
<span class="t" style="left:1042.49px;top:1618px;font-size:35.52px;transform:scaleX(0.9654);color:#fff;">estimated</span>
<span class="t" style="left:1215.15px;top:1618px;font-size:35.52px;transform:scaleX(0.9021);color:#fff;">using</span>
<span class="t" style="left:1311.75px;top:1618px;font-size:35.52px;transform:scaleX(0.9757);color:#fff;">1-month</span>
<span class="t" style="left:1461.16px;top:1618px;font-size:35.52px;transform:scaleX(0.9398);color:#fff;">and</span>
<span class="t" style="left:1533.51px;top:1618px;font-size:35.52px;transform:scaleX(0.9763);color:#fff;">12-month</span>
<span class="t" style="left:1701.63px;top:1618px;font-size:35.52px;transform:scaleX(0.9900);color:#fff;">data.</span>
<span class="t" style="left:1796.33px;top:1618px;font-size:35.52px;transform:scaleX(0.9787);color:#fff;">Months</span>
<span class="t" style="left:1931.75px;top:1618px;font-size:35.52px;transform:scaleX(0.9055);color:#fff;">Supply</span>
<span class="t" style="left:2051.30px;top:1618px;font-size:35.52px;transform:scaleX(0.9728);color:#fff;">of</span>
<span class="t" style="left:2096.98px;top:1618px;font-size:35.52px;transform:scaleX(0.9605);color:#fff;">Inventory</span>
<span class="t" style="left:2263.29px;top:1618px;font-size:35.52px;transform:scaleX(0.9228);color:#fff;">measures</span>
<div class="ln" style="left:124.22px;top:1651px;width:600.43px;height:2px;background:#fff"></div>
<span class="t" style="left:124.60px;top:1663px;font-size:35.52px;transform:scaleX(0.9462);color:#fff;">approx.</span>
<span class="t" style="left:254.47px;top:1663px;font-size:35.52px;transform:scaleX(1.0003);color:#fff;">time</span>
<span class="t" style="left:335.89px;top:1663px;font-size:35.52px;transform:scaleX(0.9613);color:#fff;">required</span>
<span class="t" style="left:481.10px;top:1663px;font-size:35.52px;transform:scaleX(1.0176);color:#fff;">to</span>
<span class="t" style="left:523.42px;top:1663px;font-size:35.52px;transform:scaleX(0.9005);color:#fff;">sell</span>
<span class="t" style="left:585.57px;top:1663px;font-size:35.52px;transform:scaleX(0.8900);color:#fff;">listings</span>
<span class="t" style="left:704.31px;top:1663px;font-size:35.52px;transform:scaleX(0.9796);color:#fff;">for</span>
<span class="t" style="left:759.17px;top:1663px;font-size:35.52px;transform:scaleX(0.9088);color:#fff;">sale</span>
<span class="t" style="left:831.00px;top:1663px;font-size:35.52px;transform:scaleX(1.0022);color:#fff;">at</span>
<span class="t" style="left:871.24px;top:1663px;font-size:35.52px;transform:scaleX(0.9654);color:#fff;">estimated</span>
<span class="t" style="left:1039.70px;top:1663px;font-size:35.52px;transform:scaleX(1.0014);color:#fff;">rate</span>
<span class="t" style="left:1113.33px;top:1663px;font-size:35.52px;transform:scaleX(0.9728);color:#fff;">of</span>
<span class="t" style="left:1154.57px;top:1663px;font-size:35.52px;transform:scaleX(0.9254);color:#fff;">sale.</span>
<span class="t" style="left:1236.08px;top:1663px;font-size:35.52px;transform:scaleX(0.9379);color:#fff;">Lower</span>
<span class="t" style="left:1342.77px;top:1663px;font-size:35.52px;transform:scaleX(0.9175);color:#fff;">readings</span>
<span class="t" style="left:1486.69px;top:1663px;font-size:35.52px;transform:scaleX(0.8992);color:#fff;">signify</span>
<span class="t" style="left:1598.28px;top:1663px;font-size:35.52px;transform:scaleX(0.9325);color:#fff;">higher</span>
<span class="t" style="left:1707.95px;top:1663px;font-size:35.52px;transform:scaleX(0.9605);color:#fff;">demand</span>
<span class="t" style="left:1847.90px;top:1663px;font-size:35.52px;transform:scaleX(0.8581);color:#fff;">as</span>
<span class="t" style="left:1889.87px;top:1663px;font-size:35.52px;transform:scaleX(0.9450);color:#fff;">compared</span>
<span class="t" style="left:2058.92px;top:1663px;font-size:35.52px;transform:scaleX(1.0176);color:#fff;">to</span>
<span class="t" style="left:2101.21px;top:1663px;font-size:35.52px;transform:scaleX(0.9216);color:#fff;">supply.</span>
<span class="t" style="left:125.05px;top:1731px;font-size:32.29px;transform:scaleX(0.9472);color:#fff;">Data</span>
<span class="t" style="left:201.31px;top:1731px;font-size:32.29px;transform:scaleX(0.9757);color:#fff;">reported</span>
<span class="t" style="left:337.24px;top:1731px;font-size:32.29px;transform:scaleX(1.0176);color:#fff;">to</span>
<span class="t" style="left:376.28px;top:1731px;font-size:32.29px;transform:scaleX(0.9245);color:#fff;">NorCal</span>
<span class="t" style="left:482.74px;top:1731px;font-size:32.29px;transform:scaleX(0.8964);color:#fff;">MLS</span>
<span class="t" style="left:551.26px;top:1731px;font-size:32.29px;transform:scaleX(0.9291);color:#fff;">Alliance</span>
<span class="t" style="left:674.88px;top:1731px;font-size:32.29px;transform:scaleX(0.9398);color:#fff;">and</span>
<span class="t" style="left:737.52px;top:1731px;font-size:32.29px;transform:scaleX(0.9210);color:#fff;">Infosparks,</span>
<span class="t" style="left:904.42px;top:1731px;font-size:32.29px;transform:scaleX(0.9545);color:#fff;">may</span>
<span class="t" style="left:974.03px;top:1731px;font-size:32.29px;transform:scaleX(0.9450);color:#fff;">contain</span>
<span class="t" style="left:1090.53px;top:1731px;font-size:32.29px;transform:scaleX(0.9374);color:#fff;">errors</span>
<span class="t" style="left:1186.20px;top:1731px;font-size:32.29px;transform:scaleX(0.9398);color:#fff;">and</span>
<span class="t" style="left:1248.26px;top:1731px;font-size:32.29px;transform:scaleX(0.9205);color:#fff;">subject</span>
<span class="t" style="left:1360.57px;top:1731px;font-size:32.29px;transform:scaleX(1.0176);color:#fff;">to</span>
<span class="t" style="left:1399.42px;top:1731px;font-size:32.29px;transform:scaleX(0.9327);color:#fff;">revision.</span>
<span class="t" style="left:1539.22px;top:1731px;font-size:32.29px;transform:scaleX(0.9952);color:#fff;">Not</span>
<span class="t" style="left:1601.41px;top:1731px;font-size:32.29px;transform:scaleX(0.9445);color:#fff;">all</span>
<span class="t" style="left:1643.79px;top:1731px;font-size:32.29px;transform:scaleX(0.9465);color:#fff;">activity</span>
<span class="t" style="left:1756.90px;top:1731px;font-size:32.29px;transform:scaleX(0.8553);color:#fff;">is</span>
<span class="t" style="left:124.92px;top:1772px;font-size:32.29px;transform:scaleX(0.9757);color:#fff;">reported</span>
<span class="t" style="left:263.76px;top:1772px;font-size:32.29px;transform:scaleX(1.0176);color:#fff;">to</span>
<span class="t" style="left:306.04px;top:1772px;font-size:32.29px;transform:scaleX(0.9114);color:#fff;">MLS.</span>
<span class="t" style="left:386.78px;top:1772px;font-size:32.29px;transform:scaleX(0.9411);color:#fff;">All</span>
<span class="t" style="left:436.77px;top:1772px;font-size:32.29px;transform:scaleX(0.9392);color:#fff;">numbers</span>
<span class="t" style="left:575.90px;top:1772px;font-size:32.29px;transform:scaleX(0.9608);color:#fff;">approximate</span>
<span class="t" style="left:759.93px;top:1772px;font-size:32.29px;transform:scaleX(1.1348);color:#fff;">.</span>
<span class="t" style="left:780.55px;top:1772px;font-size:32.29px;transform:scaleX(0.9017);color:#fff;">Statistics</span>
<span class="t" style="left:920.94px;top:1772px;font-size:32.29px;transform:scaleX(0.9154);color:#fff;">based</span>
<span class="t" style="left:1017.48px;top:1772px;font-size:32.29px;transform:scaleX(0.9516);color:#fff;">on</span>
<span class="t" style="left:1066.14px;top:1772px;font-size:32.29px;transform:scaleX(0.9248);color:#fff;">past</span>
<span class="t" style="left:1139.13px;top:1772px;font-size:32.29px;transform:scaleX(0.9465);color:#fff;">activity</span>
<span class="t" style="left:1255.70px;top:1772px;font-size:32.29px;transform:scaleX(0.9545);color:#fff;">may</span>
<span class="t" style="left:1328.51px;top:1772px;font-size:32.29px;transform:scaleX(0.9800);color:#fff;">not</span>
<span class="t" style="left:1389.28px;top:1772px;font-size:32.29px;transform:scaleX(0.9369);color:#fff;">apply</span>
<span class="t" style="left:1479.33px;top:1772px;font-size:32.29px;transform:scaleX(1.0176);color:#fff;">to</span>
<span class="t" style="left:1521.01px;top:1772px;font-size:32.29px;transform:scaleX(0.9877);color:#fff;">future</span>
<span class="t" style="left:1622.37px;top:1772px;font-size:32.29px;transform:scaleX(0.9464);color:#fff;">trends</span>
<span class="t" style="left:1726.85px;top:1772px;font-size:32.29px;transform:scaleX(0.9398);color:#fff;">and</span>
<div class="ln" style="left:387.46px;top:1803px;width:372.90px;height:2px;background:#fff"></div>
<span class="t" style="left:124.92px;top:1813px;font-size:32.29px;transform:scaleX(0.9079);color:#fff;">can</span>
<span class="t" style="left:183.35px;top:1813px;font-size:32.29px;transform:scaleX(0.9567);color:#fff;">be</span>
<span class="t" style="left:227.04px;top:1813px;font-size:32.29px;transform:scaleX(0.9581);color:#fff;">distorted</span>
<span class="t" style="left:367.42px;top:1813px;font-size:32.29px;transform:scaleX(0.9272);color:#fff;">by</span>
<span class="t" style="left:410.04px;top:1813px;font-size:32.29px;transform:scaleX(0.9766);color:#fff;">outlier</span>
<span class="t" style="left:514.08px;top:1813px;font-size:32.29px;transform:scaleX(0.9511);color:#fff;">data</span>
<span class="t" style="left:587.72px;top:1813px;font-size:32.29px;transform:scaleX(0.9162);color:#fff;">(especially</span>
<span class="t" style="left:746.20px;top:1813px;font-size:32.29px;transform:scaleX(0.9747);color:#fff;">in</span>
<span class="t" style="left:781.78px;top:1813px;font-size:32.29px;transform:scaleX(0.9846);color:#fff;">low</span>
<span class="t" style="left:842.66px;top:1813px;font-size:32.29px;transform:scaleX(0.8820);color:#fff;">sales</span>
<span class="t" style="left:921.56px;top:1813px;font-size:32.29px;transform:scaleX(0.9546);color:#fff;">volume</span>
<span class="t" style="left:1037.12px;top:1813px;font-size:32.29px;transform:scaleX(0.9288);color:#fff;">segments).</span>
<span class="t" style="left:1203.31px;top:1813px;font-size:32.29px;transform:scaleX(0.9460);color:#fff;">Numbers</span>
<span class="t" style="left:1342.96px;top:1813px;font-size:32.29px;transform:scaleX(0.9115);color:#fff;">change</span>
<span class="t" style="left:1453.65px;top:1813px;font-size:32.29px;transform:scaleX(0.9390);color:#fff;">constantly.</span>
<svg class="ln" style="left:0;top:0" width="2500" height="1875" viewBox="0 0 2500 1875">
<g fill="none" stroke="#fff" stroke-width="10">
<path d="M1921.74 1769.91 A30.4 30.4 0 1 0 1921.74 1808.99"/>
<circle cx="1977.75" cy="1789.45" r="30.3"/>
<path d="M2141.9 1822.8 V1761 H2168.4 A16.07 16.07 0 0 1 2168.4 1793.15 H2141.9" stroke-width="9.9"/>
</g>
<path d="M1966.35 1801.45 L1989.9 1777.75" stroke="#fff" stroke-width="9.2" fill="none"/>
<path fill="#fff" d="M2032.9 1822.8 V1755.7 H2036.3 L2071.9 1805.5 L2107.5 1755.7 H2110.3 V1822.8 H2099.6 V1785.1 L2071.9 1822.8 L2043.6 1785.1 V1822.8 Z"/>
<path fill="#fff" fill-rule="evenodd" d="M2194 1822.8 L2229.6 1755.2 L2264.6 1822.8 H2252.7 L2244.5 1806 H2213.5 L2204.7 1822.8 Z M2229.6 1775.5 L2239.6 1795.9 H2218.9 Z"/>
<g fill="none" stroke="#fff" stroke-width="9.4">
<path d="M2319 1768 C2312 1762 2306 1759.7 2300 1759.7 C2290 1759.7 2283.5 1765 2283.5 1773 C2283.5 1781 2291 1784.5 2302 1787.5 C2314 1791 2320.3 1796 2320.3 1805 C2320.3 1814 2312 1819 2302 1819 C2292 1819 2285 1815 2280.5 1809"/>
<path d="M2384 1768 C2377 1762 2371 1759.7 2365 1759.7 C2355 1759.7 2348.5 1765 2348.5 1773 C2348.5 1781 2356 1784.5 2367 1787.5 C2379 1791 2385.3 1796 2385.3 1805 C2385.3 1814 2377 1819 2367 1819 C2357 1819 2350 1815 2345.5 1809"/>
</g>
</svg>
</body></html>
